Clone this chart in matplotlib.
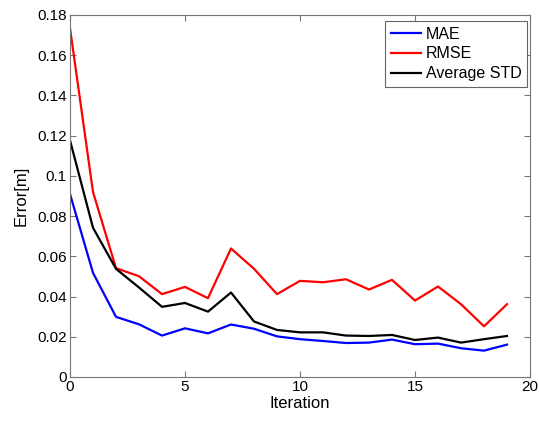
import matplotlib
matplotlib.use("Agg")
import matplotlib.pyplot as plt

iterations = list(range(20))
mae = [0.091, 0.0518, 0.0299, 0.0262, 0.0206, 0.0242, 0.0217, 0.0261, 0.024, 0.0202,
       0.0188, 0.0179, 0.0169, 0.0171, 0.0186, 0.0163, 0.0166, 0.0143, 0.0131, 0.0161]
rmse = [0.1735, 0.092, 0.0541, 0.0501, 0.0412, 0.0448, 0.0392, 0.0639, 0.0538, 0.0412,
        0.0478, 0.0471, 0.0486, 0.0435, 0.0483, 0.038, 0.045, 0.0362, 0.0252, 0.0362]
avg_std = [0.1177, 0.0742, 0.0538, 0.0445, 0.0349, 0.0368, 0.0325, 0.042, 0.0276, 0.0234,
           0.0222, 0.0222, 0.0206, 0.0204, 0.0209, 0.0184, 0.0196, 0.0171, 0.0188, 0.0204]

plt.rcParams['font.family'] = ['Liberation Sans', 'DejaVu Sans']

fig = plt.figure(figsize=(5.39, 4.21), dpi=100)
ax = fig.add_axes([70/539, 44/421, 460/539, 362/421])

ax.plot(iterations, mae, color='#0000ff', lw=1.6, label='MAE')
ax.plot(iterations, rmse, color='#ff0000', lw=1.6, label='RMSE')
ax.plot(iterations, avg_std, color='#000000', lw=1.6, label='Average STD')

ax.set_xlim(0, 20)
ax.set_ylim(0, 0.18)
ax.set_xticks([0, 5, 10, 15, 20])
ax.set_yticks([0, 0.02, 0.04, 0.06, 0.08, 0.1, 0.12, 0.14, 0.16, 0.18])
ax.set_yticklabels(['0', '0.02', '0.04', '0.06', '0.08', '0.1', '0.12', '0.14', '0.16', '0.18'])
ax.tick_params(direction='in', top=True, right=True, length=4, labelsize=11,
               color='#777777', pad=2.5)
for s in ax.spines.values():
    s.set_color('#777777')
ax.set_xlabel('Iteration', fontsize=12, labelpad=1)
ax.set_ylabel('Error[m]', fontsize=12, labelpad=6)

leg = ax.legend(loc='upper right', fontsize=11.5, frameon=True, fancybox=False,
                edgecolor='#666666', framealpha=1, borderaxespad=0,
                handlelength=1.9, handletextpad=0.3, labelspacing=0.3, borderpad=0.35,
                bbox_to_anchor=((527 - 70) / 460, (377 - 21) / 362))
leg.get_frame().set_linewidth(0.8)

fig.savefig('out.png', dpi=100)
